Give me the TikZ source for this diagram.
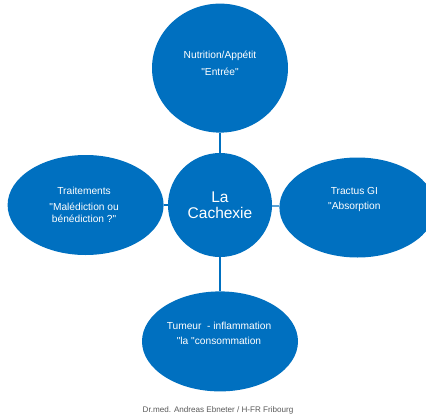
\documentclass[tikz,border=0pt]{standalone}
\usepackage{fontspec}
\setmainfont{Liberation Sans}[Ligatures=TeXOff]
\usetikzlibrary{positioning,shapes.geometric}
\definecolor{cachblue}{RGB}{0,112,192}
\definecolor{creditgray}{RGB}{89,89,89}

\begin{document}
\begin{tikzpicture}[x=1pt, y=-1pt,
  bubble/.style={ellipse, fill=cachblue, inner sep=0pt, minimum width=156pt, minimum height=100pt},
  bubbletext/.style={text=white, align=center, font=\fontsize{10.2}{12}\selectfont},
  link/.style={draw=cachblue, line width=1.3pt}]
\useasboundingbox (0,0) rectangle (426,418);
% hub
\node[circle, fill=cachblue, minimum size=104pt, inner sep=0pt, text=white, align=center,
  font=\fontsize{15.5}{16.5}\selectfont] (cachexie) at (220,205) {La\\Cachexie};
% the four satellites
\node[bubble, above=20pt of cachexie, minimum width=136pt, minimum height=129pt] (nutri) {};
\node[bubble, left=4pt of cachexie] (traite) {};
\node[bubble, right=7pt of cachexie, yshift=-2.5pt] (tractus) {};
\node[bubble, below=34pt of cachexie] (tumeur) {};
\node[bubbletext] (nutri-txt) at ([yshift=5pt]nutri.center) {Nutrition/Appétit\\[5.5pt]"Entrée"};
\node[bubbletext] (traite-txt) at ([xshift=-1.5pt]traite.center) {Traitements\\[3.3pt]"Malédiction ou\\bénédiction ?"};
\node[bubbletext] (tractus-txt) at ([xshift=-3pt,yshift=8pt]tractus.center) {Tractus GI\\[3pt]"Absorption};
\node[bubbletext] (tumeur-txt) at ([xshift=-1pt,yshift=8.5pt]tumeur.center) {Tumeur\ \ - inflammation\\[3pt]"la "consommation};
\draw[link] (nutri) -- (cachexie);
\draw[link] (traite) -- (cachexie);
\draw[link] (tractus) -- (cachexie);
\draw[link] (tumeur) -- (cachexie);
% footer
\node[font=\fontsize{8.1}{10}\selectfont, text=creditgray] (credit) at (218,410) {Dr.med. Andreas Ebneter / H-FR Fribourg};
\end{tikzpicture}
\end{document}
